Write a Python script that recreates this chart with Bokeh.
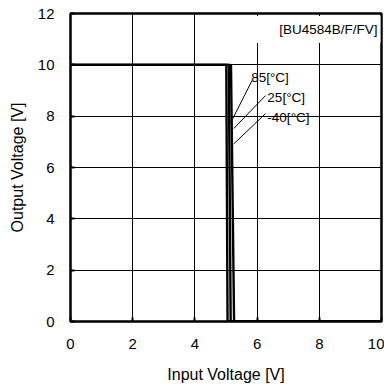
from bokeh.plotting import figure
from bokeh.models import Range1d, FixedTicker, Label
from bokeh.embed import file_html
from bokeh.resources import INLINE

# Data (Input Voltage [V] vs Output Voltage [V])
vin_85 = [0.0, 5.01, 5.05, 10.0]
vout_85 = [10.0, 10.0, 0.0, 0.0]
vin_25 = [0.0, 5.09, 5.15, 10.0]
vout_25 = [10.0, 10.0, 0.0, 0.0]
vin_m40 = [0.0, 5.16, 5.26, 10.0]
vout_m40 = [10.0, 10.0, 0.0, 0.0]

x_ticks = [0, 2, 4, 6, 8, 10]
y_ticks = [0, 2, 4, 6, 8, 10, 12]

temp_labels = ["85[°C]", "25[°C]", "-40[°C]"]
label_x = [5.81, 6.33, 6.33]
label_y = [9.5, 8.73, 7.95]
leader_x0 = [5.84, 6.27, 6.27]
leader_y0 = [9.39, 8.80, 8.10]
leader_x1 = [5.14, 5.25, 5.25]
leader_y1 = [7.72, 7.52, 6.92]

FONT = "Liberation Sans"

p = figure(output_backend="svg", toolbar_location=None,
           frame_width=311, frame_height=308,
           min_border_left=70, min_border_right=3,
           min_border_top=13, min_border_bottom=67,
           x_range=Range1d(0, 10), y_range=Range1d(0, 12))
p.background_fill_color = "white"
p.border_fill_color = "white"
p.outline_line_color = "black"
p.outline_line_width = 2.5

for ax, ticks in ((p.xaxis[0], x_ticks), (p.yaxis[0], y_ticks)):
    ax.ticker = FixedTicker(ticks=ticks)
    ax.axis_line_color = None
    ax.major_tick_in = 4
    ax.major_tick_out = 0
    ax.major_tick_line_color = "black"
    ax.major_tick_line_width = 2
    ax.minor_tick_line_color = None
    ax.major_label_text_font = FONT
    ax.major_label_text_font_size = "15px"
    ax.major_label_text_color = "black"
    ax.axis_label_text_font = FONT
    ax.axis_label_text_font_size = "16px"
    ax.axis_label_text_font_style = "normal"
    ax.axis_label_text_color = "black"

p.xaxis.axis_label = "Input Voltage [V]"
p.yaxis.axis_label = "Output Voltage [V]"
p.xaxis.major_label_standoff = 17
p.yaxis.major_label_standoff = 16
p.xaxis.axis_label_standoff = 14
p.yaxis.axis_label_standoff = 9

p.xgrid.ticker = FixedTicker(ticks=x_ticks)
p.ygrid.ticker = FixedTicker(ticks=y_ticks)
for g in (p.xgrid[0], p.ygrid[0]):
    g.grid_line_color = "black"
    g.grid_line_width = 1

# model label box
p.add_layout(Label(x=10, y=11.375, text="[BU4584B/F/FV]", text_align="right",
                   text_baseline="middle", x_offset=-1,
                   text_font=FONT, text_font_size="13.5px", text_color="black",
                   background_fill_color="white",
                   padding=dict(left=26, right=3, top=6, bottom=6)))

# curves
for xs, ys in ((vin_m40, vout_m40), (vin_25, vout_25), (vin_85, vout_85)):
    p.line(xs, ys, line_color="black", line_width=2.4)

# leader lines and temperature labels
p.segment(x0=leader_x0, y0=leader_y0, x1=leader_x1, y1=leader_y1,
          line_color="black", line_width=1)
for t, lx, ly in zip(temp_labels, label_x, label_y):
    p.add_layout(Label(x=lx, y=ly, text=t, text_align="left",
                       text_baseline="middle", text_font=FONT,
                       text_font_size="13.5px", text_color="black"))

open("out.html", "w").write(file_html(p, INLINE))
